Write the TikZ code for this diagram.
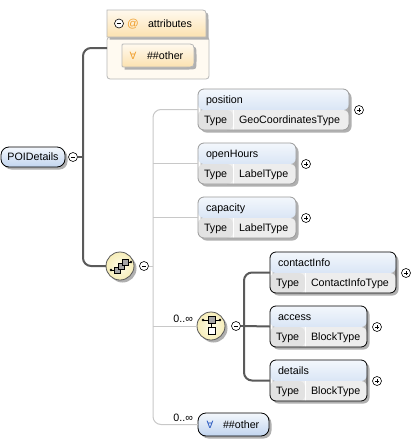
\documentclass[tikz,border=0pt]{standalone}
\usepackage{fontspec}
\setmainfont{Liberation Sans}
\newfontfamily\djv{DejaVu Sans}
\usetikzlibrary{calc}
\definecolor{hdtop}{HTML}{F3F7FC}
\definecolor{hdbot}{HTML}{C2D5EF}
\definecolor{typec}{HTML}{E2E2E2}
\definecolor{valc}{HTML}{EDEDED}
\definecolor{shd}{HTML}{B0B0B0}
\definecolor{darkc}{HTML}{5A5A5A}
\definecolor{lightc}{HTML}{C8C8C8}
\definecolor{gborder}{HTML}{9A9A9A}
\definecolor{attop}{HTML}{FFF9EE}
\definecolor{atbot}{HTML}{FCE2B0}
\definecolor{atbody}{HTML}{FFFAF1}
\definecolor{atborder}{HTML}{B8B8B8}
\definecolor{orng}{HTML}{F0A030}
\definecolor{blu}{HTML}{2858C0}
\definecolor{cyin}{HTML}{FDFBE8}
\definecolor{cyout}{HTML}{F6EDB8}
\tikzset{
  every node/.style={font=\fontsize{10.7}{12}\selectfont, inner sep=0pt, outer sep=0pt},
  darkline/.style={draw=darkc, line width=2pt},
  lightline/.style={draw=lightc, line width=1pt},
  elembox/.style={rectangle, rounded corners=6pt, minimum height=41pt, line width=0.8pt, anchor=north west,
    path picture={
      \shade[top color=hdtop, bottom color=hdbot] (path picture bounding box.north west) rectangle ([yshift=-21pt]path picture bounding box.north east);
      \fill[valc] ([yshift=-21pt]path picture bounding box.north west) rectangle (path picture bounding box.south east);
      \fill[typec] ([yshift=-21pt]path picture bounding box.north west) rectangle ([xshift=35pt]path picture bounding box.south west);
      \draw[white, line width=0.8pt] ([xshift=35pt,yshift=-21pt]path picture bounding box.north west) -- ([xshift=35pt]path picture bounding box.south west);
    }},
  pm/.style={circle, draw=black, fill=white, minimum size=9pt, line width=0.6pt},
  pmplus/.style={pm, path picture={\draw[line width=0.7pt] ([xshift=-2.2pt]path picture bounding box.center) -- ([xshift=2.2pt]path picture bounding box.center) ([yshift=-2.2pt]path picture bounding box.center) -- ([yshift=2.2pt]path picture bounding box.center);}},
  pmminus/.style={pm, path picture={\draw[line width=0.7pt] ([xshift=-2.2pt]path picture bounding box.center) -- ([xshift=2.2pt]path picture bounding box.center);}},
  compnode/.style={circle, minimum size=28pt, draw=darkc, line width=0.8pt, inner color=cyin, outer color=cyout},
  bluebox/.style={rectangle, rounded corners=8pt, draw=black, line width=0.8pt, top color=hdtop, bottom color=hdbot, anchor=north west},
}
% #1 name, #2 x, #3 y, #4 width, #5 label, #6 type, #7 border colour
\newcommand\xel[7]{%
  \fill[shd, rounded corners=6pt] (#2+2.5,#3+2.5) rectangle ++(#4,41);
  \node[elembox, draw=#7, minimum width=#4pt] (#1) at (#2,#3) {};
  \node[anchor=base west] (#1n) at ([xshift=8pt,yshift=-14.8pt]#1.north west) {#5};
  \node[anchor=base west] (#1t) at ([xshift=6pt,yshift=-34.8pt]#1.north west) {Type};
  \node[anchor=base west] (#1v) at ([xshift=41pt,yshift=-34.8pt]#1.north west) {#6};
  \node[pmplus] (#1p) at ([xshift=10pt,yshift=-21pt]#1.north east) {};
}
\begin{document}
\begin{tikzpicture}[x=1pt,y=-1pt]
\useasboundingbox (0,0) rectangle (418,440);
\fill[white] (0,0) rectangle (418,440);

% ---------- connectors ----------
\coordinate (j1) at (83,157);
\coordinate (j2) at (153,266);
\coordinate (j3) at (244,326);

% ---------- root ----------
\fill[shd, rounded corners=8pt] (3.5,149.5) rectangle ++(64,20);
\node[bluebox, minimum width=64pt, minimum height=20pt] (root) at (1,147) {};
\node (rootn) at (root.center) {POIDetails};
\node[pmminus] (rootm) at (73,157) {};

% ---------- attributes ----------
\node[rectangle, rounded corners=3pt, draw=atborder, fill=atbody, line width=0.8pt, anchor=north west,
      minimum width=102pt, minimum height=42pt] (attbody) at (107,37) {};
\fill[shd] (109.5,12.5) -- (109.5,39.5) -- (208.5,39.5) -- (208.5,19.5) .. controls (208.5,12.5) .. (201.5,12.5) -- cycle;
\shadedraw[top color=attop, bottom color=atbot, draw=atborder, line width=0.8pt]
  (107,37) -- (107,10) -- (199,10) .. controls (206,10) .. (206,17) -- (206,37) -- cycle;
\node[pmminus] (attm) at (119,23.5) {};
\node[anchor=base, text=orng, font=\fontsize{11.5}{12}\selectfont] (atta) at (133,27.5) {@};
\node[anchor=base west] (attn) at (148,27.5) {attributes};
\fill[shd] (124.5,46.5) -- (188.5,46.5) .. controls (196.5,46.5) .. (196.5,54.5) -- (196.5,61.5) .. controls (196.5,69.5) .. (188.5,69.5) -- (124.5,69.5) -- cycle;
\shadedraw[top color=attop, bottom color=atbot, draw=atborder, line width=0.8pt]
  (122,46) .. controls (122,44) .. (124,44) -- (186,44) .. controls (194,44) .. (194,52) -- (194,59)
  .. controls (194,67) .. (186,67) -- (124,67) .. controls (122,67) .. (122,65) -- cycle;
\node[text=orng, font=\djv\fontsize{10}{12}\selectfont] (aothq) at (133,56) {∀};
\node[anchor=base west] (aothn) at (147,59.5) {\#\#other};

% ---------- sequence ----------
\fill[shd] (122.5,268.5) circle (14);
\node[compnode] (seq) at (120,266) {};
\draw[line width=0.6pt] (111,270) -- (115,270) (127,262) -- (131,262);
\fill (111,270) circle (1.3) (131,262) circle (1.3);
\draw[fill=gray!70, line width=0.5pt] (114,267) rectangle (120,273);
\draw[fill=gray!70, line width=0.5pt] (118,263) rectangle (124,269);
\draw[fill=gray!70, line width=0.5pt] (122,259) rectangle (128,265);
\node[pmminus] (seqm) at (144,266) {};

% ---------- elements ----------
\xel{pos}{198}{89}{151}{position}{GeoCoordinatesType}{gborder}
\xel{oh}{198}{143}{98}{openHours}{LabelType}{gborder}
\xel{cap}{198}{197}{98}{capacity}{LabelType}{gborder}
\xel{ci}{270}{252}{126}{contactInfo}{ContactInfoType}{black}
\xel{acc}{270}{306}{97}{access}{BlockType}{black}
\xel{det}{270}{360}{97}{details}{BlockType}{black}

% ---------- choice ----------
\fill[shd] (213.5,328.5) circle (14);
\node[compnode] (cho) at (211,326) {};
\draw[line width=0.6pt] (203,320) -- (220,320) (211.5,323.5) -- (211.5,327);
\fill (203,320) circle (1.3) (220,320) circle (1.3);
\draw[fill=gray!70, line width=0.5pt] (208,316.5) rectangle (215,323.5);
\draw[fill=white, line width=0.5pt] (208,327) rectangle (215,334);
\node[pmminus] (chom) at (236,326) {};
\node[anchor=base east] (chol) at (193,322.5) {0..∞};

% ---------- any other ----------
\fill[shd, rounded corners=8pt] (200.5,415.5) rectangle ++(71,23);
\node[bluebox, minimum width=71pt, minimum height=23pt] (othr) at (198,413) {};
\node[text=blu, font=\djv\fontsize{10}{12}\selectfont] (othrq) at (210,424.5) {∀};
\node[anchor=base west] (othrn) at (223,428) {\#\#other};
\node[anchor=base east] (othrl) at (193,421.5) {0..∞};

% ---------- connector lines ----------
\draw[darkline] (rootm.east) -- (j1);
\draw[darkline, rounded corners=8pt] ([yshift=-11pt]attbody.north west) -| (j1) |- (seq.west);
\draw[lightline] (seqm.east) -- (j2);
\draw[lightline, rounded corners=8pt] (pos.west) -| (j2) |- (othr.west);
\draw[lightline] (oh.west) -- (oh.west -| j2);
\draw[lightline] (cap.west) -- (cap.west -| j2);
\draw[lightline] (cho.west) -- (cho.west -| j2);
\draw[darkline] (chom.east) -- (j3);
\draw[darkline, rounded corners=8pt] (ci.west) -| (j3) |- (det.west);
\draw[darkline] (j3) -- (acc.west);
\end{tikzpicture}
\end{document}
